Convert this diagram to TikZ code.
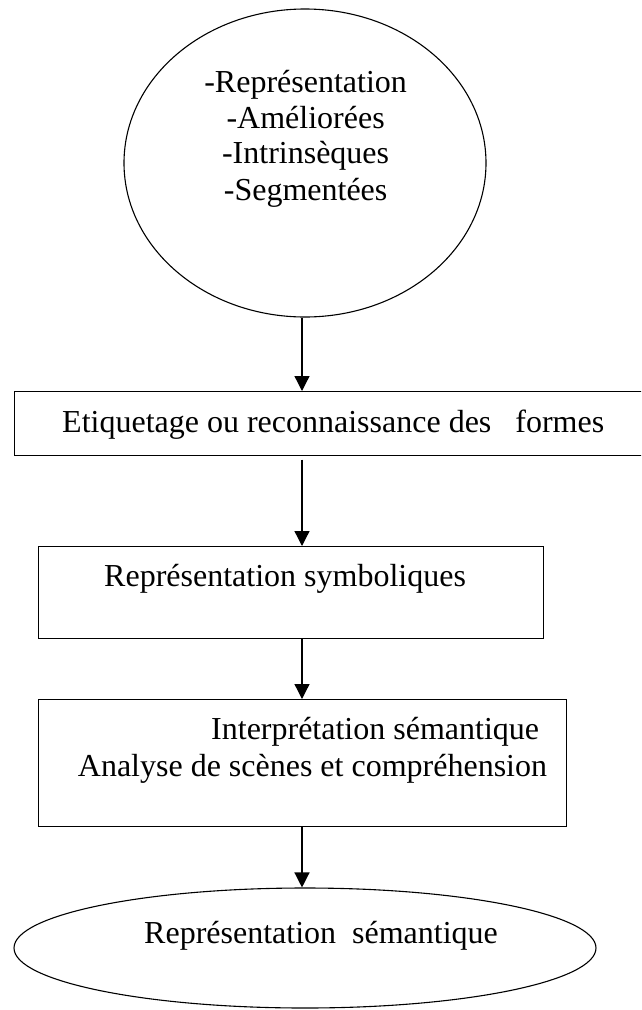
\documentclass[tikz,border=0pt]{standalone}
\usepackage{fontspec}
\setmainfont{Liberation Serif}
\usetikzlibrary{shapes.geometric,arrows.meta}
\begin{document}
\begin{tikzpicture}[x=1pt,y=-1pt,
  outline/.style={draw=black,line width=1.1pt,inner sep=0pt},
  boxshape/.style={outline,rectangle,anchor=north west},
  ovalshape/.style={outline,ellipse},
  caption/.style={font=\fontsize{32}{36}\selectfont,inner sep=0pt,anchor=base west},
  flow/.style={draw=black,line width=1.3pt,-{Triangle[length=15pt,width=15pt]}}]
\useasboundingbox (0,0) rectangle (641,1010);
\clip (0,0) rectangle (641,1010);

% vertical axis shared by every connector
\coordinate (axis) at (302,0);

% source representations
\node[ovalshape,minimum width=362pt,minimum height=308pt] (src) at (305,163) {};
\node[caption,anchor=base] (srcA) at (305.6,92) {-Représentation};
\node[caption,anchor=base] (srcB) at (305.6,128) {-Améliorées};
\node[caption,anchor=base] (srcC) at (305.6,163.5) {-Intrinsèques};
\node[caption,anchor=base] (srcD) at (305.6,200) {-Segmentées};

% labelling stage (runs past the right border)
\node[boxshape,minimum width=636pt,minimum height=63.5pt] (labeling) at (13.5,391) {};
\node[caption] (labelingText) at (62,432) {Etiquetage ou reconnaissance des\ \ \ formes};

% symbolic representation
\node[boxshape,minimum width=505.5pt,minimum height=92pt] (symb) at (37.5,546) {};
\node[caption] (symbText) at (104,586.5) {Représentation symboliques};

% interpretation
\node[boxshape,minimum width=528.5pt,minimum height=127pt] (interp) at (37.5,699) {};
\node[caption] (interpA) at (211,739) {Interprétation sémantique};
\node[caption] (interpB) at (77.7,776) {Analyse de scènes et compréhension};

% semantic representation
\node[ovalshape,minimum width=582pt,minimum height=120pt] (sem) at (305,948) {};
\node[caption] (semText) at (144,943) {Représentation\ \ sémantique};

% connectors
\draw[flow] (src.south -| axis) -- (labeling.north -| axis);
\draw[flow,shorten <=4pt] (labeling.south -| axis) -- (symb.north -| axis);
\draw[flow] (symb.south -| axis) -- (interp.north -| axis);
\draw[flow] (interp.south -| axis) -- (sem.north -| axis);
\end{tikzpicture}
\end{document}
